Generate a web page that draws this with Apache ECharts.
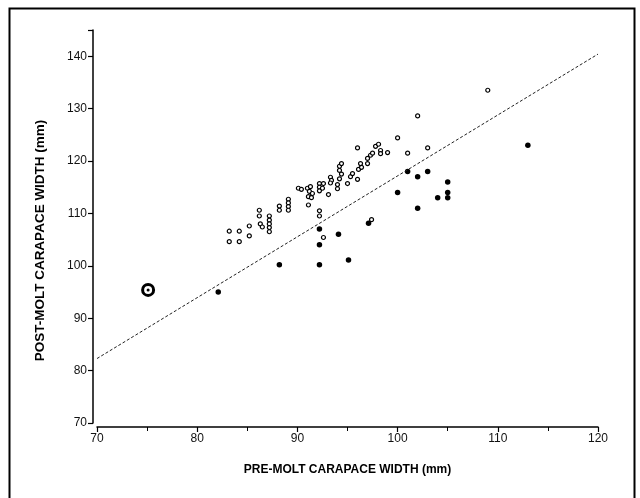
<!DOCTYPE html>
<html><head><meta charset="utf-8">
<script src="https://cdn.jsdelivr.net/npm/echarts@6/dist/echarts.min.js"></script>
<style>html,body{margin:0;padding:0;background:#fff}#c{width:640px;height:498px}</style>
</head><body><div id="c"></div>
<script>
// Data
var xTicks = [70, 80, 90, 100, 110, 120];
var yTicks = [70, 80, 90, 100, 110, 120, 130, 140];

var hollowX = [83.2,83.2,84.2,84.2,85.2,85.2,86.2,86.2,86.3,86.5,87.2,87.2,87.2,87.2,87.2,88.2,88.2,89.1,89.1,89.1,89.1,90.1,90.4,91.1,91.0,91.3,91.2,91.5,91.1,91.4,92.2,92.2,92.2,92.6,92.5,92.2,92.2,92.6,93.1,93.3,93.4,93.3,94.0,94.0,94.2,94.4,94.2,94.2,94.4,95.0,95.3,95.5,96.0,96.0,96.1,96.4,96.3,97.0,97.0,97.3,97.5,97.8,98.1,98.3,98.3,99.0,100.0,101.0,102.0,103.0,109.0,97.4];
var hollowY = [106.6,104.6,106.6,104.6,107.6,105.7,110.6,109.5,108.0,107.4,109.5,108.7,108.0,107.3,106.5,111.4,110.6,112.7,112.0,111.3,110.6,114.8,114.6,111.6,114.8,115.1,114.2,113.8,113.2,113.0,115.7,115.0,114.3,115.7,114.8,110.5,109.5,105.4,113.6,116.9,116.3,115.8,114.7,115.5,116.6,117.5,118.2,119.0,119.5,115.7,117.0,117.6,122.5,116.5,118.4,118.8,119.5,119.5,120.5,121.1,121.5,122.8,123.2,122.0,121.4,121.6,124.4,121.5,128.6,122.5,133.5,108.8];

var filledX = [82.1,88.2,92.2,95.1,94.1,92.2,92.2,97.1,100.0,101.0,102.0,102.0,103.0,104.0,105.0,105.0,105.0,113.0];
var filledY = [95.0,100.2,100.2,101.1,106.0,107.0,104.0,108.1,114.0,118.0,117.0,111.0,118.0,113.0,116.0,114.0,113.0,123.0];

var outlierX = [75.1];
var outlierY = [95.4];

var lineX = [70, 120];
var lineY = [82.3, 140.4];

function zip(a, b) { return a.map(function (v, i) { return [v, b[i]]; }); }

var chart = echarts.init(document.getElementById('c'), null, {renderer: 'canvas'});
var font = 'Liberation Sans';
chart.setOption({
  animation: false,
  backgroundColor: '#fff',
  grid: {left: 97, right: 42, top: 30, bottom: 75},
  graphic: [{
    type: 'rect', left: 7, top: 6, shape: {x: 0, y: 0, width: 625, height: 510},
    style: {fill: 'none', stroke: '#000', lineWidth: 2}, silent: true
  }],
  xAxis: {
    type: 'value', min: xTicks[0], max: xTicks[xTicks.length - 1], interval: 10,
    offset: 4,
    name: 'PRE-MOLT CARAPACE WIDTH (mm)', nameLocation: 'middle', nameGap: 37,
    nameTextStyle: {fontFamily: font, fontWeight: 'bold', fontSize: 12, color: '#000'},
    axisLine: {show: true, onZero: false, lineStyle: {color: '#000', width: 1.5}},
    axisTick: {show: true, length: 5, lineStyle: {color: '#000', width: 1.2}},
    minorTick: {show: true, splitNumber: 2, length: 4, lineStyle: {color: '#000', width: 1}},
    axisLabel: {fontFamily: font, fontSize: 12, color: '#111', margin: 6},
    splitLine: {show: false}
  },
  yAxis: {
    type: 'value', min: yTicks[0], max: 145, interval: 10,
    offset: 4,
    name: 'POST-MOLT CARAPACE WIDTH (mm)', nameLocation: 'middle', nameGap: 46,
    nameTextStyle: {fontFamily: font, fontWeight: 'bold', fontSize: 13.5, color: '#000',
      padding: [0, 28, 0, 0]},
    axisLine: {show: true, onZero: false, lineStyle: {color: '#000', width: 1.5}},
    axisTick: {show: true, length: 5, lineStyle: {color: '#000', width: 1.2}},
    axisLabel: {fontFamily: font, fontSize: 12, color: '#111', margin: 6,
      formatter: function (v) { return yTicks.indexOf(v) >= 0 ? String(v) : ''; }},
    splitLine: {show: false}
  },
  series: [
    {type: 'line', data: zip(lineX, lineY), symbol: 'none', silent: true,
     lineStyle: {color: '#222', width: 1, type: [3, 2]}},
    {type: 'scatter', data: zip(hollowX, hollowY), symbol: 'circle', symbolSize: 4,
     itemStyle: {color: '#fff', borderColor: '#000', borderWidth: 1.2, opacity: 1}},
    {type: 'scatter', data: zip(filledX, filledY), symbol: 'circle', symbolSize: 5.5,
     itemStyle: {color: '#000', opacity: 1}},
    {type: 'scatter', data: zip(outlierX, outlierY), symbol: 'circle', symbolSize: 11,
     itemStyle: {color: '#fff', borderColor: '#000', borderWidth: 3, opacity: 1}},
    {type: 'scatter', data: zip(outlierX, outlierY), symbol: 'circle', symbolSize: 3,
     itemStyle: {color: '#000', opacity: 1}}
  ]
});
</script>
</body></html>
